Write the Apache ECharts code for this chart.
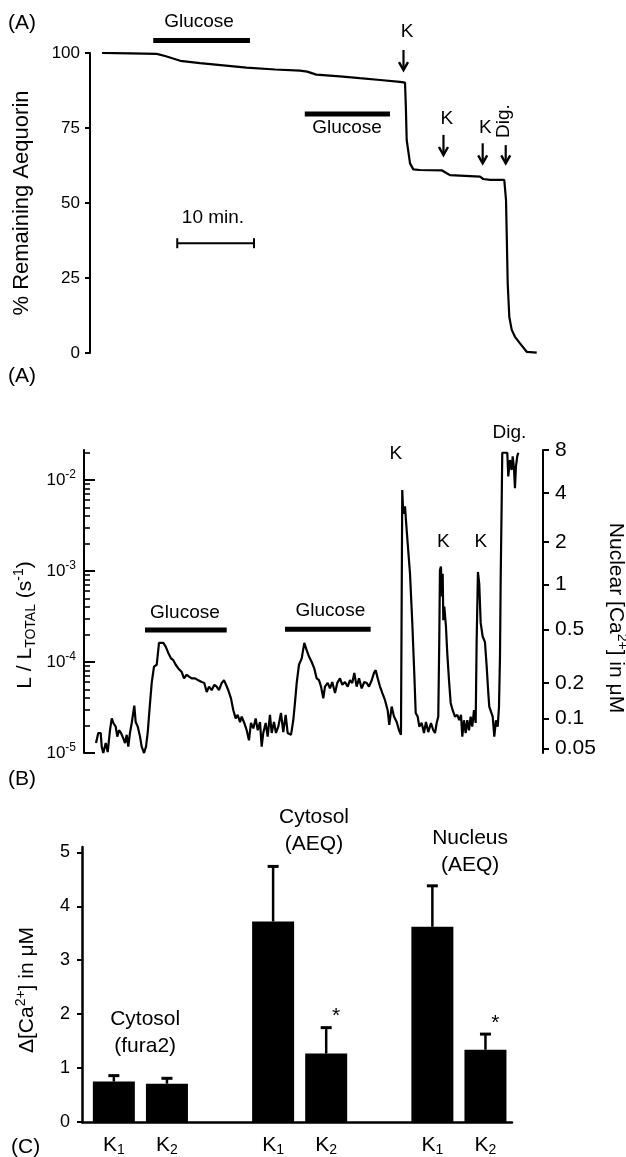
<!DOCTYPE html>
<html>
<head>
<meta charset="utf-8">
<script src="https://cdn.jsdelivr.net/npm/echarts@6/dist/echarts.min.js"></script>
<style>html,body{margin:0;padding:0;background:#fff}#c{width:626px;height:1157px}</style>
</head>
<body>
<div id="c"></div>
<script>
const FONT = '"Liberation Sans", Arial, Helvetica, sans-serif';

// ---------- Panel A: % remaining aequorin vs time (min) ----------
const aTrace = [[0,100],[3.7,99.9],[7.2,99.7],[8.3,99.0],[10.3,97.4],[12.9,96.6],[14.6,96.2],[19.0,95.1],[22.8,94.5],[26.05,94.1],[27.0,93.8],[28.2,92.8],[31.3,92.2],[33.9,91.6],[36.6,91.0],[39.2,90.4],[39.87,90.1],[39.98,82],[40.09,71],[40.53,63.2],[40.96,61.2],[41.8,61.0],[44.7,60.9],[45.36,59.9],[45.79,59.3],[49.74,58.8],[50.17,58.0],[51.05,57.7],[52.93,57.7],[53.03,57.1],[53.16,51],[53.25,40],[53.38,23.3],[53.59,12.1],[53.91,7.7],[54.34,5.4],[55.0,3.2],[55.88,0.4],[57.2,0.1]];
const aGlucoseBars = [[6.74, 19.47, 104.2], [26.68, 37.89, 79.7]];   // [start, end, level]
const aScaleBar = [[9.9, 20.0, 36.6]];                               // 10 min bar
const aArrows = [[39.67, 101, 94.3], [44.93, 72.7, 66.0], [50.09, 69.9, 63.2], [53.12, 69.3, 63.2]];
const aLabels = ['Glucose', 'Glucose', 'K', 'K', 'K', '10 min.'];
const aLabelPos = [[12.76, 110.3], [32.24, 75.0], [40.13, 107.1], [45.37, 78.0], [50.43, 75.1], [14.6, 45.0]];
const aRotLabels = ['Dig.'];
const aRotLabelPos = [[52.8, 77.3]];

// ---------- Panel B: log10(L/Ltotal) vs time (min) ----------
const bTrace = [[0,-4.89],[0.30,-4.78],[0.62,-4.78],[0.75,-4.93],[0.96,-5.00],[1.28,-4.89],[1.54,-4.99],[1.84,-4.75],[2.07,-4.62],[2.28,-4.67],[2.59,-4.71],[2.80,-4.82],[3.03,-4.75],[3.29,-4.78],[3.59,-4.84],[3.82,-4.89],[4.04,-4.80],[4.25,-4.93],[4.47,-4.78],[4.70,-4.67],[5.04,-4.48],[5.22,-4.66],[5.49,-4.71],[5.79,-4.82],[6.01,-4.93],[6.32,-5.00],[6.58,-4.93],[6.80,-4.78],[7.11,-4.45],[7.33,-4.23],[7.63,-4.05],[7.99,-4.03],[8.29,-3.79],[8.55,-3.78],[8.86,-3.79],[9.17,-3.83],[9.51,-3.90],[9.87,-3.96],[10.17,-3.98],[10.49,-4.03],[10.83,-4.07],[11.28,-4.11],[11.58,-4.18],[11.93,-4.14],[12.24,-4.16],[12.59,-4.18],[13.03,-4.18],[13.46,-4.20],[13.91,-4.22],[14.25,-4.23],[14.57,-4.33],[14.87,-4.27],[15.22,-4.31],[15.57,-4.25],[15.88,-4.27],[16.18,-4.31],[16.54,-4.23],[16.84,-4.20],[17.11,-4.25],[17.41,-4.31],[17.76,-4.40],[18.07,-4.53],[18.38,-4.62],[18.64,-4.58],[18.95,-4.66],[19.17,-4.60],[19.51,-4.67],[19.83,-4.75],[20.13,-4.86],[20.39,-4.67],[20.70,-4.73],[21.01,-4.62],[21.28,-4.75],[21.58,-4.66],[21.80,-4.93],[22.01,-4.78],[22.33,-4.67],[22.59,-4.82],[22.89,-4.58],[23.12,-4.78],[23.42,-4.66],[23.68,-4.78],[23.99,-4.71],[24.34,-4.56],[24.64,-4.77],[24.96,-4.58],[25.22,-4.78],[25.66,-4.80],[25.96,-4.64],[26.18,-4.45],[26.41,-4.23],[26.71,-4.03],[27.07,-3.96],[27.41,-3.79],[27.72,-3.87],[28.03,-3.94],[28.38,-4.00],[28.72,-4.07],[29.04,-4.18],[29.34,-4.20],[29.61,-4.27],[29.91,-4.40],[30.13,-4.27],[30.49,-4.23],[30.79,-4.29],[31.09,-4.22],[31.45,-4.34],[31.75,-4.23],[32.11,-4.18],[32.41,-4.25],[32.76,-4.22],[33.12,-4.27],[33.42,-4.20],[33.72,-4.23],[33.99,-4.12],[34.30,-4.27],[34.61,-4.18],[34.96,-4.29],[35.30,-4.22],[35.62,-4.23],[35.92,-4.27],[36.28,-4.20],[36.58,-4.12],[36.80,-4.09],[37.07,-4.18],[37.37,-4.27],[37.67,-4.34],[38.03,-4.42],[38.38,-4.53],[38.59,-4.69],[38.91,-4.49],[39.21,-4.60],[39.57,-4.66],[39.87,-4.75],[40.13,-4.80],[40.30,-2.11],[40.43,-2.37],[40.66,-2.29],[40.88,-2.55],[41.32,-3.03],[41.62,-3.57],[41.88,-4.12],[42.07,-4.56],[42.33,-4.60],[42.54,-4.71],[42.86,-4.67],[43.16,-4.78],[43.42,-4.66],[43.72,-4.77],[44.08,-4.67],[44.38,-4.75],[44.61,-4.78],[44.83,-4.67],[45.04,-4.60],[45.17,-3.76],[45.26,-2.99],[45.39,-2.95],[45.53,-3.28],[45.62,-3.03],[45.70,-3.54],[45.83,-3.39],[46.05,-3.61],[46.22,-3.90],[46.45,-4.20],[46.67,-4.45],[46.93,-4.53],[47.24,-4.60],[47.54,-4.58],[47.80,-4.64],[48.03,-4.58],[48.20,-4.82],[48.42,-4.64],[48.64,-4.78],[48.86,-4.64],[49.08,-4.75],[49.30,-4.60],[49.51,-4.71],[49.74,-4.53],[49.96,-4.67],[50.09,-3.76],[50.26,-3.01],[50.43,-3.14],[50.62,-3.57],[50.88,-3.72],[51.18,-3.78],[51.41,-4.05],[51.62,-4.34],[51.75,-4.49],[51.97,-4.47],[52.20,-4.60],[52.41,-4.82],[52.63,-4.64],[52.86,-4.71],[53.03,-4.49],[53.16,-3.94],[53.25,-3.10],[53.38,-2.26],[53.46,-1.70],[54.12,-1.70],[54.25,-1.96],[54.47,-1.78],[54.70,-1.89],[54.83,-1.74],[55.00,-1.87],[55.13,-2.09],[55.26,-1.85],[55.43,-1.74],[55.57,-1.70]];
const bExponents = [-5, -4, -3, -2];
const bCaLabels = ['8', '4', '2', '1', '0.5', '0.2', '0.1', '0.05'];
const bCaPositions = [-1.67, -2.14, -2.68, -3.15, -3.64, -4.23, -4.62, -4.95];
const bGlucoseBars = [[6.45, 17.20, -3.648], [24.87, 36.14, -3.640]];
const bLabels = ['Glucose', 'Glucose', 'K', 'K', 'K', 'Dig.'];
const bLabelPos = [[11.7, -3.456], [30.84, -3.44], [39.47, -1.714], [45.70, -2.678], [50.63, -2.678], [54.4, -1.484]];

// ---------- Panel C: bars ----------
const cCategories = ['K1', 'K2', '', 'K1', 'K2', '', 'K1', 'K2'];
const cMeans = [0.75, 0.71, null, 3.72, 1.27, null, 3.62, 1.34];
const cErrors = [0.11, 0.10, null, 1.02, 0.48, null, 0.76, 0.29];
const cSignificant = [0, 0, 0, 0, 1, 0, 0, 1];
const cGroupLabels = ['Cytosol\n(fura2)', 'Cytosol\n(AEQ)', 'Nucleus\n(AEQ)'];
const cGroupLabelPos = [[0.59, 1.66], [3.77, 5.41], [6.71, 5.02]];

// ---------- derived ----------
const B_MIN = -5, B_MAX = -1.67, BX_MIN = -1.58;
const bMinor = [];
for (let n = -5; n <= -2; n++) for (let k = 2; k <= 9; k++) {
  const v = n + Math.log10(k);
  if (v <= B_MAX) bMinor.push(v);
}
const cPositions = [], cBarData = [], cErrData = [];
cCategories.forEach((c, i) => {
  if (c) cPositions.push(i);
  if (cMeans[i] != null) {
    cBarData.push([i, cMeans[i]]);
    cErrData.push([i, cMeans[i], cErrors[i], cSignificant[i]]);
  }
});

const BLACK = '#000';
const axLine = (w) => ({ show: true, onZero: false, lineStyle: { color: BLACK, width: w } });

function hbar(width) {
  return function (params, api) {
    const a = api.coord([api.value(0), api.value(2)]);
    const b = api.coord([api.value(1), api.value(2)]);
    return { type: 'line', shape: { x1: a[0], y1: a[1], x2: b[0], y2: b[1] }, style: { stroke: BLACK, lineWidth: width } };
  };
}
function scaleBar(params, api) {
  const a = api.coord([api.value(0), api.value(2)]);
  const b = api.coord([api.value(1), api.value(2)]);
  const st = { stroke: BLACK, lineWidth: 2 };
  return { type: 'group', children: [
    { type: 'line', shape: { x1: a[0], y1: a[1], x2: b[0], y2: b[1] }, style: st },
    { type: 'line', shape: { x1: a[0], y1: a[1] - 5, x2: a[0], y2: a[1] + 5 }, style: st },
    { type: 'line', shape: { x1: b[0], y1: b[1] - 5, x2: b[0], y2: b[1] + 5 }, style: st }
  ] };
}
function arrow(params, api) {
  const t = api.value(0);
  const a = api.coord([t, api.value(1)]);
  const b = api.coord([t, api.value(2)]);
  return { type: 'group', children: [
    { type: 'line', shape: { x1: a[0], y1: a[1], x2: b[0], y2: b[1] - 1 }, style: { stroke: BLACK, lineWidth: 2.2 } },
    { type: 'polyline', shape: { points: [[b[0] - 4.5, b[1] - 8], [b[0], b[1]], [b[0] + 4.5, b[1] - 8]] }, style: { stroke: BLACK, lineWidth: 2.4, fill: null } }
  ] };
}
function textItem(texts, size, rot, lh) {
  return function (params, api) {
    const p = api.coord([api.value(0), api.value(1)]);
    return { type: 'text', x: p[0], y: p[1], rotation: rot || 0,
      style: { text: texts[params.dataIndex], fontFamily: FONT, fontSize: size, fill: BLACK,
               align: 'center', verticalAlign: 'middle', lineHeight: lh || Math.round(size * 1.2) } };
  };
}
function errorBar(params, api) {
  const x = api.value(0), m = api.value(1), e = api.value(2), sig = api.value(3);
  const p0 = api.coord([x, m]), p1 = api.coord([x, m + e]);
  const ch = [
    { type: 'line', shape: { x1: p0[0], y1: p0[1], x2: p1[0], y2: p1[1] }, style: { stroke: BLACK, lineWidth: 2.5 } },
    { type: 'line', shape: { x1: p1[0] - 5.5, y1: p1[1], x2: p1[0] + 5.5, y2: p1[1] }, style: { stroke: BLACK, lineWidth: 3 } }
  ];
  if (sig) ch.push({ type: 'text', x: p1[0] + 10, y: p1[1] - 11,
    style: { text: '*', fontFamily: FONT, fontSize: 21, fill: BLACK, align: 'center', verticalAlign: 'middle' } });
  return { type: 'group', children: ch };
}

const richBase = (size, lh) => ({ fontFamily: FONT, fontSize: size, lineHeight: lh, color: BLACK });

const option = {
  animation: false,
  backgroundColor: '#fff',
  textStyle: { fontFamily: FONT, color: BLACK },
  grid: [
    { left: 90, width: 468, top: 53, height: 300 },
    { left: 84, right: 83, top: 450, height: 303 },
    { left: 82, right: 114, top: 847, height: 275 }
  ],
  xAxis: [
    { gridIndex: 0, type: 'value', min: BX_MIN, max: 60, show: false },
    { gridIndex: 1, type: 'value', min: BX_MIN, max: 58.82, show: false },
    { gridIndex: 2, type: 'value', min: -0.6, max: 7.5, axisLine: axLine(2.5), axisTick: { show: false }, splitLine: { show: false },
      axisLabel: { customValues: cPositions, margin: 11,
        formatter: (v) => { const c = cCategories[Math.round(v)] || ''; return '{k|' + c.charAt(0) + '}{s|' + c.slice(1) + '}'; },
        rich: { k: richBase(21, 24), s: Object.assign(richBase(14, 14), { verticalAlign: 'bottom' }) } } }
  ],
  yAxis: [
    { gridIndex: 0, type: 'value', min: 0, max: 100, interval: 25, axisLine: axLine(2), splitLine: { show: false },
      axisTick: { show: true, length: 5, lineStyle: { color: BLACK, width: 2 } },
      axisLabel: { fontFamily: FONT, fontSize: 17, color: BLACK, margin: 10 } },
    { gridIndex: 1, type: 'value', position: 'left', min: B_MIN, max: B_MAX, axisLine: axLine(2), splitLine: { show: false },
      axisTick: { show: true, inside: true, length: 11, customValues: bExponents, lineStyle: { color: BLACK, width: 2 } },
      axisLabel: { customValues: bExponents, margin: 8,
        formatter: (v) => '{b|10}{s|' + Math.round(v) + '}',
        rich: { b: richBase(17, 22), s: Object.assign(richBase(12, 12), { verticalAlign: 'top' }) } } },
    { gridIndex: 1, type: 'value', position: 'left', offset: 0, min: B_MIN, max: B_MAX,
      axisLine: { show: false, onZero: false }, splitLine: { show: false },
      axisTick: { show: true, inside: true, length: 6, customValues: bMinor, lineStyle: { color: BLACK, width: 1.6 } },
      axisLabel: { show: false } },
    { gridIndex: 1, type: 'value', position: 'right', min: B_MIN, max: B_MAX, axisLine: axLine(2), splitLine: { show: false },
      axisTick: { show: true, length: 6, customValues: bCaPositions, lineStyle: { color: BLACK, width: 2 } },
      axisLabel: { customValues: bCaPositions, margin: 12, fontFamily: FONT, fontSize: 21, color: BLACK,
        formatter: (v) => { let bi = 0; bCaPositions.forEach((p, i) => { if (Math.abs(p - v) < Math.abs(bCaPositions[bi] - v)) bi = i; }); return bCaLabels[bi]; } } },
    { gridIndex: 2, type: 'value', min: 0, max: 5.1, interval: 1, axisLine: axLine(2.5), splitLine: { show: false },
      axisTick: { show: true, length: 5, lineStyle: { color: BLACK, width: 2 } },
      axisLabel: { fontFamily: FONT, fontSize: 18, color: BLACK, margin: 12 } }
  ],
  series: [
    { type: 'line', xAxisIndex: 0, yAxisIndex: 0, data: aTrace, symbol: 'none', silent: true, lineStyle: { color: BLACK, width: 2.2 } },
    { type: 'custom', xAxisIndex: 0, yAxisIndex: 0, data: aGlucoseBars, renderItem: hbar(5), silent: true, clip: false },
    { type: 'custom', xAxisIndex: 0, yAxisIndex: 0, data: aScaleBar, renderItem: scaleBar, silent: true, clip: false },
    { type: 'custom', xAxisIndex: 0, yAxisIndex: 0, data: aArrows, renderItem: arrow, silent: true, clip: false },
    { type: 'custom', xAxisIndex: 0, yAxisIndex: 0, data: aLabelPos, renderItem: textItem(aLabels, 19), silent: true, clip: false },
    { type: 'custom', xAxisIndex: 0, yAxisIndex: 0, data: aRotLabelPos, renderItem: textItem(aRotLabels, 19, Math.PI / 2), silent: true, clip: false },
    { type: 'line', xAxisIndex: 1, yAxisIndex: 1, data: bTrace, symbol: 'none', silent: true, lineStyle: { color: BLACK, width: 2.2 } },
    { type: 'custom', xAxisIndex: 1, yAxisIndex: 1, data: bGlucoseBars, renderItem: hbar(5), silent: true, clip: false },
    { type: 'custom', xAxisIndex: 1, yAxisIndex: 1, data: bLabelPos, renderItem: textItem(bLabels, 19), silent: true, clip: false },
    { type: 'bar', xAxisIndex: 2, yAxisIndex: 4, data: cBarData, barWidth: 42, silent: true, itemStyle: { color: BLACK } },
    { type: 'custom', xAxisIndex: 2, yAxisIndex: 4, data: cErrData, renderItem: errorBar, silent: true, clip: false, z: 3 },
    { type: 'custom', xAxisIndex: 2, yAxisIndex: 4, data: cGroupLabelPos, renderItem: textItem(cGroupLabels, 21, 0, 27), silent: true, clip: false }
  ],
  graphic: [
    { type: 'text', x: 8, y: 23, style: { text: '(A)', fontFamily: FONT, fontSize: 21, fill: BLACK, verticalAlign: 'middle' } },
    { type: 'text', x: 8, y: 376, style: { text: '(A)', fontFamily: FONT, fontSize: 21, fill: BLACK, verticalAlign: 'middle' } },
    { type: 'text', x: 8, y: 779, style: { text: '(B)', fontFamily: FONT, fontSize: 21, fill: BLACK, verticalAlign: 'middle' } },
    { type: 'text', x: 11, y: 1147, style: { text: '(C)', fontFamily: FONT, fontSize: 21, fill: BLACK, verticalAlign: 'middle' } },
    { type: 'text', x: 22, y: 203, rotation: Math.PI / 2,
      style: { text: '% Remaining Aequorin', fontFamily: FONT, fontSize: 22, fill: BLACK, align: 'center', verticalAlign: 'middle' } },
    { type: 'text', x: 25, y: 625, rotation: Math.PI / 2,
      style: { text: '{a|L / L}{s|TOTAL}{a| (s}{p|-1}{a|)}', align: 'center', verticalAlign: 'middle',
        rich: { a: richBase(21, 26), s: Object.assign(richBase(14, 14), { verticalAlign: 'bottom' }), p: Object.assign(richBase(14, 14), { verticalAlign: 'top' }) } } },
    { type: 'text', x: 616, y: 618, rotation: -Math.PI / 2,
      style: { text: '{a|Nuclear [Ca}{p|2+}{a|] in μM}', align: 'center', verticalAlign: 'middle',
        rich: { a: richBase(21, 26), p: Object.assign(richBase(14, 14), { verticalAlign: 'top' }) } } },
    { type: 'text', x: 27, y: 990, rotation: Math.PI / 2,
      style: { text: '{a|Δ[Ca}{p|2+}{a|] in μM}', align: 'center', verticalAlign: 'middle',
        rich: { a: richBase(21, 26), p: Object.assign(richBase(14, 14), { verticalAlign: 'top' }) } } }
  ]
};

const chart = echarts.init(document.getElementById('c'), null, { renderer: 'canvas' });
chart.setOption(option);
</script>
</body>
</html>
